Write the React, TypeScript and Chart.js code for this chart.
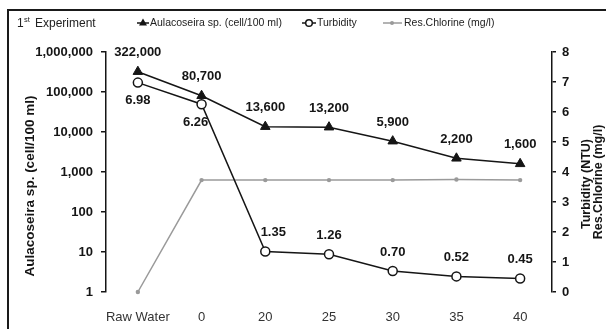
import React, { useEffect, useRef } from 'react';
import { Chart, registerables } from 'chart.js';

Chart.register(...registerables);

const categories = ['Raw Water', '0', '20', '25', '30', '35', '40'];
const aulacoseira = [322000, 80700, 13600, 13200, 5900, 2200, 1600];
const turbidity = [6.98, 6.26, 1.35, 1.26, 0.7, 0.52, 0.45];
const chlorine = [0, 3.73, 3.73, 3.73, 3.73, 3.75, 3.73];
const aulacoseiraLabels = ['322,000', '80,700', '13,600', '13,200', '5,900', '2,200', '1,600'];
const turbidityLabels = ['6.98', '6.26', '1.35', '1.26', '0.70', '0.52', '0.45'];
const logTicks = [1, 10, 100, 1000, 10000, 100000, 1000000];
const seriesNames = ['Aulacoseira sp. (cell/100 ml)', 'Turbidity', 'Res.Chlorine (mg/l)'];
const leftTitle = 'Aulacoseira sp. (cell/100 ml)';
const rightTitles = ['Turbidity (NTU)', 'Res.Chlorine (mg/l)'];

const FONT = "'Liberation Sans', Arial, sans-serif";
const GRAY = '#9a9a9a';
const INK = '#151515';

const overlay = {
  id: 'overlay',
  beforeDraw(chart: any) {
    const ctx = chart.ctx;
    ctx.save();
    ctx.fillStyle = '#ffffff';
    ctx.fillRect(0, 0, chart.width, chart.height);
    ctx.restore();
  },
  afterDatasetsDraw(chart: any) {
    const ctx = chart.ctx;
    ctx.save();
    ctx.fillStyle = INK;
    ctx.font = `bold 13px ${FONT}`;
    ctx.textAlign = 'center';
    ctx.textBaseline = 'middle';
    const m0 = chart.getDatasetMeta(0);
    m0.data.forEach((p: any, i: number) => {
      ctx.fillText(aulacoseiraLabels[i], p.x, p.y - 19);
    });
    const m1 = chart.getDatasetMeta(1);
    m1.data.forEach((p: any, i: number) => {
      let dx = 0;
      let dy = -19;
      if (i === 0) dy = 18;
      if (i === 1) { dy = 18; dx = -6; }
      if (i === 2) dx = 8;
      ctx.fillText(turbidityLabels[i], p.x + dx, p.y + dy);
    });
    ctx.restore();
  },
  afterDraw(chart: any) {
    const ctx = chart.ctx;
    ctx.save();
    // frame
    ctx.strokeStyle = '#1a1a1a';
    ctx.lineWidth = 2;
    ctx.strokeRect(8, 10, 700, 400);

    // experiment label
    ctx.fillStyle = '#222';
    ctx.textBaseline = 'alphabetic';
    ctx.textAlign = 'left';
    ctx.font = `12px ${FONT}`;
    ctx.fillText('1', 17, 27);
    ctx.font = `7.5px ${FONT}`;
    ctx.fillText('st', 24, 22);
    ctx.font = `12px ${FONT}`;
    ctx.fillText('Experiment', 35, 27);

    // legend
    const ly = 23;
    ctx.lineWidth = 1.5;
    ctx.strokeStyle = INK;
    ctx.beginPath(); ctx.moveTo(137, ly); ctx.lineTo(149, ly); ctx.stroke();
    ctx.fillStyle = INK;
    ctx.beginPath();
    ctx.moveTo(143, ly - 4.5); ctx.lineTo(147, ly + 2.5); ctx.lineTo(139, ly + 2.5); ctx.closePath(); ctx.fill();

    ctx.beginPath(); ctx.moveTo(302, ly); ctx.lineTo(316, ly); ctx.stroke();
    ctx.fillStyle = '#fff';
    ctx.beginPath(); ctx.arc(309, ly, 3.3, 0, Math.PI * 2); ctx.fill(); ctx.stroke();

    ctx.strokeStyle = GRAY;
    ctx.beginPath(); ctx.moveTo(383, ly); ctx.lineTo(402, ly); ctx.stroke();
    ctx.fillStyle = GRAY;
    ctx.beginPath(); ctx.arc(392, ly, 2, 0, Math.PI * 2); ctx.fill();

    ctx.fillStyle = '#222';
    ctx.font = `10.5px ${FONT}`;
    ctx.textBaseline = 'middle';
    ctx.fillText(seriesNames[0], 150, ly);
    ctx.fillText(seriesNames[1], 317, ly);
    ctx.fillText(seriesNames[2], 404, ly);

    // axis titles
    ctx.fillStyle = INK;
    ctx.textAlign = 'center';
    ctx.font = `bold 13.5px ${FONT}`;
    ctx.save();
    ctx.translate(30, 186);
    ctx.rotate(-Math.PI / 2);
    ctx.fillText(leftTitle, 0, 0);
    ctx.restore();
    ctx.font = `bold 12.5px ${FONT}`;
    ctx.save();
    ctx.translate(587, 184);
    ctx.rotate(-Math.PI / 2);
    ctx.fillText(rightTitles[0], 0, 0);
    ctx.restore();
    ctx.save();
    ctx.translate(599, 182);
    ctx.rotate(-Math.PI / 2);
    ctx.fillText(rightTitles[1], 0, 0);
    ctx.restore();
    ctx.restore();
  },
};

export default function App() {
  const ref = useRef<HTMLCanvasElement | null>(null);
  useEffect(() => {
    if (!ref.current) return;
    const chart = new Chart(ref.current, {
      type: 'line',
      data: {
        labels: categories,
        datasets: [
          {
            label: seriesNames[0],
            data: aulacoseira,
            yAxisID: 'y',
            borderColor: INK,
            borderWidth: 1.5,
            backgroundColor: INK,
            pointStyle: 'triangle',
            pointRadius: 5.5,
            pointBorderWidth: 1,
            pointBackgroundColor: INK,
            pointBorderColor: INK,
            clip: false,
          } as any,
          {
            label: seriesNames[1],
            data: turbidity,
            yAxisID: 'y1',
            borderColor: INK,
            borderWidth: 1.5,
            pointStyle: 'circle',
            pointRadius: 4.5,
            pointBorderWidth: 1.5,
            pointBackgroundColor: '#ffffff',
            pointBorderColor: INK,
            clip: false,
          } as any,
          {
            label: seriesNames[2],
            data: chlorine,
            yAxisID: 'y1',
            borderColor: GRAY,
            borderWidth: 1.5,
            pointStyle: 'circle',
            pointRadius: 2.2,
            pointBorderWidth: 0,
            pointBackgroundColor: GRAY,
            pointBorderColor: GRAY,
            clip: false,
          } as any,
        ],
      },
      options: {
        animation: false,
        responsive: false,
        maintainAspectRatio: false,
        layout: { padding: { top: 52, left: 0, right: 0, bottom: 0 } },
        plugins: { legend: { display: false }, tooltip: { enabled: false }, title: { display: false } },
        elements: { line: { tension: 0 } },
        scales: {
          x: {
            type: 'category',
            offset: true,
            grid: { display: false },
            border: { display: false },
            ticks: { color: '#333', font: { family: FONT, size: 13 }, padding: 10, maxRotation: 0, autoSkip: false },
            afterFit: (s: any) => { s.height = 37; },
          },
          y: {
            type: 'logarithmic',
            position: 'left',
            min: 1,
            max: 1000000,
            afterBuildTicks: (s: any) => { s.ticks = logTicks.map((v) => ({ value: v })); },
            ticks: {
              color: INK,
              font: { family: FONT, size: 13, weight: 'bold' },
              padding: 8,
              callback: (v: any) => Number(v).toLocaleString('en-US'),
            },
            grid: { display: true, drawOnChartArea: false, tickLength: 5, color: INK, lineWidth: 1.5 },
            border: { display: true, color: INK, width: 1.5 },
            afterFit: (s: any) => { s.width = 106; },
          },
          y1: {
            type: 'linear',
            position: 'right',
            min: 0,
            max: 8,
            ticks: {
              stepSize: 1,
              color: INK,
              font: { family: FONT, size: 13, weight: 'bold' },
              padding: 6,
            },
            grid: { display: true, drawOnChartArea: false, tickLength: 4, color: INK, lineWidth: 1.5 },
            border: { display: true, color: INK, width: 1.5 },
            afterFit: (s: any) => { s.width = 54; },
          },
        },
      } as any,
      plugins: [overlay],
    });
    return () => chart.destroy();
  }, []);
  return (
    <div style={{ position: 'fixed', left: 0, top: 0, width: 606, height: 329, background: '#fff' }}>
      <canvas ref={ref} width={606} height={329} style={{ width: 606, height: 329, display: 'block' }} />
    </div>
  );
}
